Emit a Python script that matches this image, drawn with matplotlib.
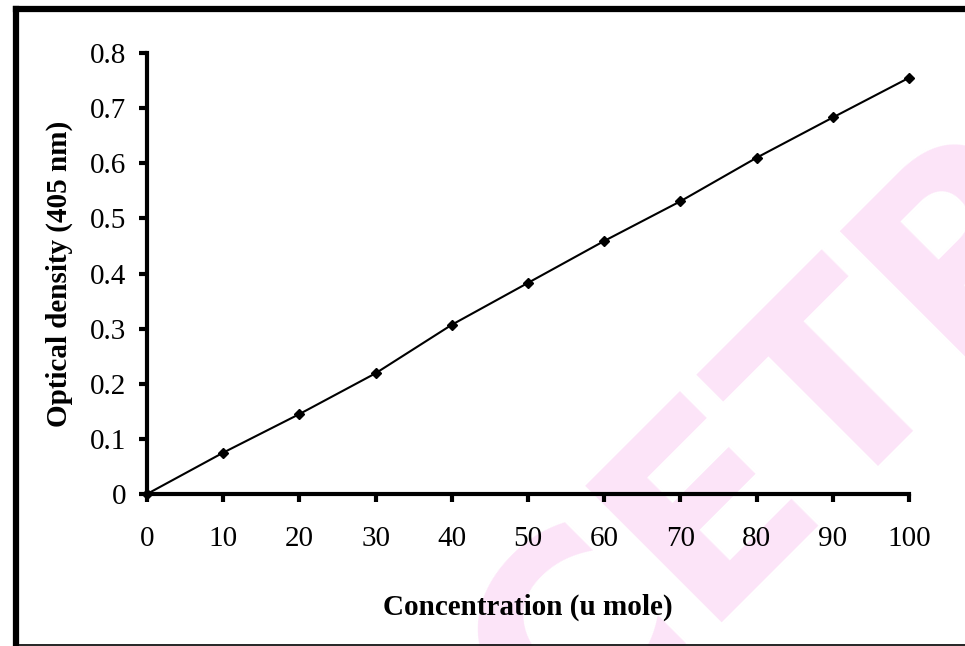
import matplotlib
matplotlib.use("Agg")
import matplotlib.pyplot as plt
from matplotlib.lines import Line2D

# ---------------------------------------------------------
# DATA
# ---------------------------------------------------------

concentration = [0, 10, 20, 30, 40, 50, 60, 70, 80, 90, 100]
optical_density = [0.0, 0.075, 0.145, 0.219, 0.307, 0.383, 0.459, 0.531, 0.610, 0.683, 0.755]

x_ticks = [0, 10, 20, 30, 40, 50, 60, 70, 80, 90, 100]
y_ticks = [0, 0.1, 0.2, 0.3, 0.4, 0.5, 0.6, 0.7, 0.8]
y_tick_labels = ["0", "0.1", "0.2", "0.3", "0.4", "0.5", "0.6", "0.7", "0.8"]

x_label = "Concentration (u mole)"
y_label = "Optical density (405 nm)"
watermark = "CETP"

plt.rcParams["font.family"] = ["Liberation Serif", "DejaVu Serif"]

W, H = 965, 646
fig = plt.figure(figsize=(W / 100, H / 100), dpi=100)

# pink watermark, behind the axes
fig.text(778 / W, 1 - 450 / H, watermark, rotation=45, fontsize=190,
         fontweight="bold", family="DejaVu Sans", color="#fce4f8",
         ha="center", va="center", zorder=-1)

# frame around the whole picture
fig.add_artist(Line2D([16 / W, 16 / W], [0, 1 - 9 / H], transform=fig.transFigure,
                      color="black", lw=4.5, solid_capstyle="projecting"))
fig.add_artist(Line2D([16 / W, 1.0], [1 - 9 / H, 1 - 9 / H], transform=fig.transFigure,
                      color="black", lw=4.5, solid_capstyle="projecting"))
fig.add_artist(Line2D([16 / W, 1.0], [1 - 645 / H, 1 - 645 / H], transform=fig.transFigure,
                      color="black", lw=1.2))

ax = fig.add_axes([147 / W, 1 - 494 / H, (909 - 147) / W, (494 - 53) / H])
ax.patch.set_alpha(0)

ax.plot(concentration, optical_density, color="black", lw=1.5,
        marker="D", markersize=5.5, clip_on=False, zorder=3)

ax.set_xlim(0, 100)
ax.set_ylim(0, 0.8)
ax.set_xticks(x_ticks)
ax.set_yticks(y_ticks)
ax.set_yticklabels(y_tick_labels)

for side in ["top", "right"]:
    ax.spines[side].set_visible(False)
for side in ["left", "bottom"]:
    ax.spines[side].set_linewidth(3)

ax.tick_params(axis="both", direction="out", width=3, length=6,
               labelsize=21)
ax.tick_params(axis="y", pad=9)
ax.tick_params(axis="x", pad=17)

ax.set_xlabel(x_label, fontsize=21, fontweight="bold", labelpad=30)
ax.set_ylabel(y_label, fontsize=21, fontweight="bold", labelpad=12)

fig.savefig("out.png", dpi=100)
